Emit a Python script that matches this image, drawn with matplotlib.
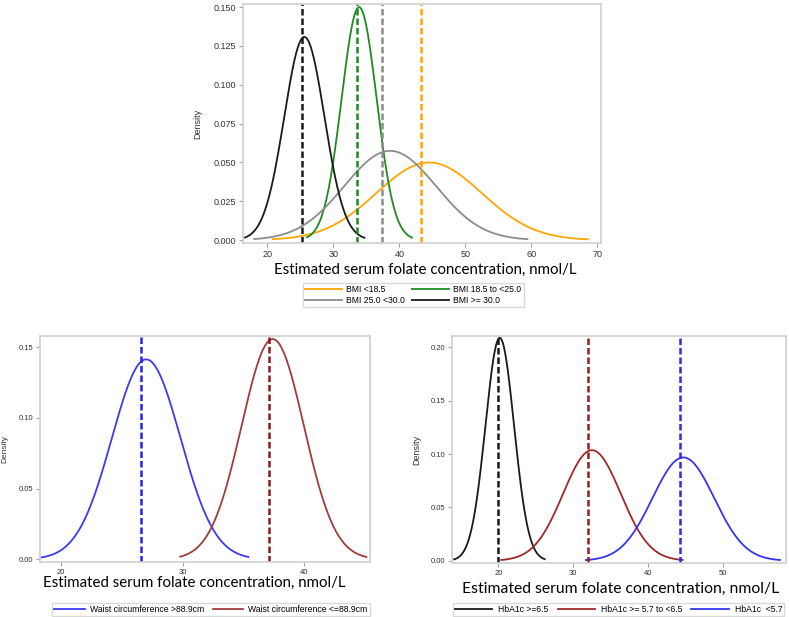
import numpy as np
import matplotlib.pyplot as plt

# BMI groups (top panel)
bmi_labels = ['BMI <18.5', 'BMI 18.5 to <25.0', 'BMI 25.0 <30.0', 'BMI >= 30.0']
bmi_mean = [44.5, 33.9, 38.6, 25.6]
bmi_sd = [7.98, 2.66, 6.94, 3.05]
bmi_lo = [20.8, 26.0, 18.0, 16.6]
bmi_hi = [68.6, 41.9, 59.4, 34.7]
bmi_ref = [43.3, 33.6, 37.3, 25.2]
bmi_colors = ['#FFA500', '#1E8C1E', '#8C8C8C', '#1A1A1A']

# waist circumference (bottom left)
waist_labels = ['Waist circumference >88.9cm', 'Waist circumference <=88.9cm']
waist_mean = [27.0, 37.4]
waist_sd = [2.82, 2.56]
waist_lo = [18.4, 29.8]
waist_hi = [35.4, 45.1]
waist_ref = [26.6, 37.1]
waist_colors = ['#3A3AF2', '#A03C3C']
waist_ref_colors = ['#2424F0', '#8B1A1A']

# HbA1c (bottom right)
hba_labels = ['HbA1c >=6.5', 'HbA1c >= 5.7 to <6.5', 'HbA1c  <5.7']
hba_mean = [20.2, 32.5, 44.7]
hba_sd = [1.91, 3.85, 4.12]
hba_lo = [14.1, 20.4, 31.7]
hba_hi = [26.2, 44.6, 57.6]
hba_ref = [19.9, 32.0, 44.2]
hba_colors = ['#1A1A1A', '#A02828', '#3535F0']
hba_ref_colors = ['#1A1A1A', '#9B1C1C', '#2A2AF2']

XLABEL = 'Estimated serum folate concentration, nmol/L'
tick_font = 'Liberation Sans'
label_font = 'Lato'


def normal_pdf(x, m, s):
    return np.exp(-0.5 * ((x - m) / s) ** 2) / (s * np.sqrt(2 * np.pi))


def density_panel(ax, means, sds, los, his, refs, colors, ref_colors,
                  xlim, ylim, xticks, yticks, yfmt, tsize, ysize, ylab_x):
    lines = []
    for m, s, lo, hi, c in zip(means, sds, los, his, colors):
        x = np.linspace(lo, hi, 300)
        ln, = ax.plot(x, normal_pdf(x, m, s), color=c, lw=1.3)
        lines.append(ln)
    for r, c in zip(refs, ref_colors):
        ax.axvline(r, color=c, lw=1.8, dashes=(2.6, 1.2))
    ax.set_xlim(*xlim)
    ax.set_ylim(*ylim)
    ax.set_xticks(xticks)
    ax.set_yticks(yticks)
    ax.set_yticklabels([yfmt % v for v in yticks])
    for sp in ax.spines.values():
        sp.set_color('#D0D0D0')
        sp.set_linewidth(1.2)
    ax.tick_params(length=3, width=0.8, color='#A0A0A0', labelsize=tsize,
                   labelcolor='#333333', pad=2)
    for t in ax.get_xticklabels() + ax.get_yticklabels():
        t.set_fontfamily(tick_font)
    ax.set_ylabel('Density', fontsize=ysize, family=tick_font, color='#333333')
    ax.yaxis.set_label_coords(ylab_x, 0.5)
    return lines


def add_legend(handles, labels, ncol, x, y, hlen, tpad, cspace):
    fig.legend(handles, labels, ncol=ncol, loc='upper center',
               bbox_to_anchor=(x, y), borderaxespad=0,
               prop={'family': tick_font, 'size': 6.2}, frameon=True,
               fancybox=False, edgecolor='#D0D0D0', handlelength=hlen,
               handletextpad=tpad, columnspacing=cspace, borderpad=0.25,
               labelspacing=0.25)


fig = plt.figure(figsize=(7.89, 6.17), dpi=100)

# top panel
ax1 = fig.add_axes([0.308, 0.606, 0.454, 0.3875])
l1 = density_panel(ax1, bmi_mean, bmi_sd, bmi_lo, bmi_hi, bmi_ref,
                   bmi_colors, bmi_colors, (16.3, 70.6), (-0.0019, 0.152),
                   [20, 30, 40, 50, 60, 70],
                   [0.0, 0.025, 0.05, 0.075, 0.1, 0.125, 0.15], '%.3f',
                   6.5, 6.5, -0.1145)
fig.text(0.539, 0.556, XLABEL, ha='center', va='baseline',
         family=label_font, fontsize=10.85)
add_legend([l1[0], l1[2], l1[1], l1[3]],
           [bmi_labels[0], bmi_labels[2], bmi_labels[1], bmi_labels[3]],
           2, 0.524, 0.5413, 4.3, 0.47, 0.8)

# bottom left
ax2 = fig.add_axes([0.0507, 0.0891, 0.4183, 0.3663])
l2 = density_panel(ax2, waist_mean, waist_sd, waist_lo, waist_hi, waist_ref,
                   waist_colors, waist_ref_colors, (18.27, 45.4),
                   (-0.0019, 0.158), [20, 30, 40], [0.0, 0.05, 0.1, 0.15],
                   '%.2f', 5.5, 6, -0.097)
fig.text(0.246, 0.049, XLABEL, ha='center', va='baseline',
         family=label_font, fontsize=10.8)
add_legend(l2, waist_labels, 2, 0.2674, 0.0227, 3.5, 0.6, 1.05)

# bottom right
ax3 = fig.add_axes([0.5733, 0.087, 0.4229, 0.3684])
l3 = density_panel(ax3, hba_mean, hba_sd, hba_lo, hba_hi, hba_ref,
                   hba_colors, hba_ref_colors, (13.87, 58.4),
                   (-0.0024, 0.2106), [20, 30, 40, 50],
                   [0.0, 0.05, 0.1, 0.15, 0.2], '%.2f', 5.5, 6.5, -0.0946)
fig.text(0.786, 0.0384, XLABEL, ha='center', va='baseline',
         family=label_font, fontsize=11.3)
add_legend(l3, hba_labels, 3, 0.7839, 0.0227, 4.3, 0.7, 1.1)

fig.savefig('out.png', dpi=100)
